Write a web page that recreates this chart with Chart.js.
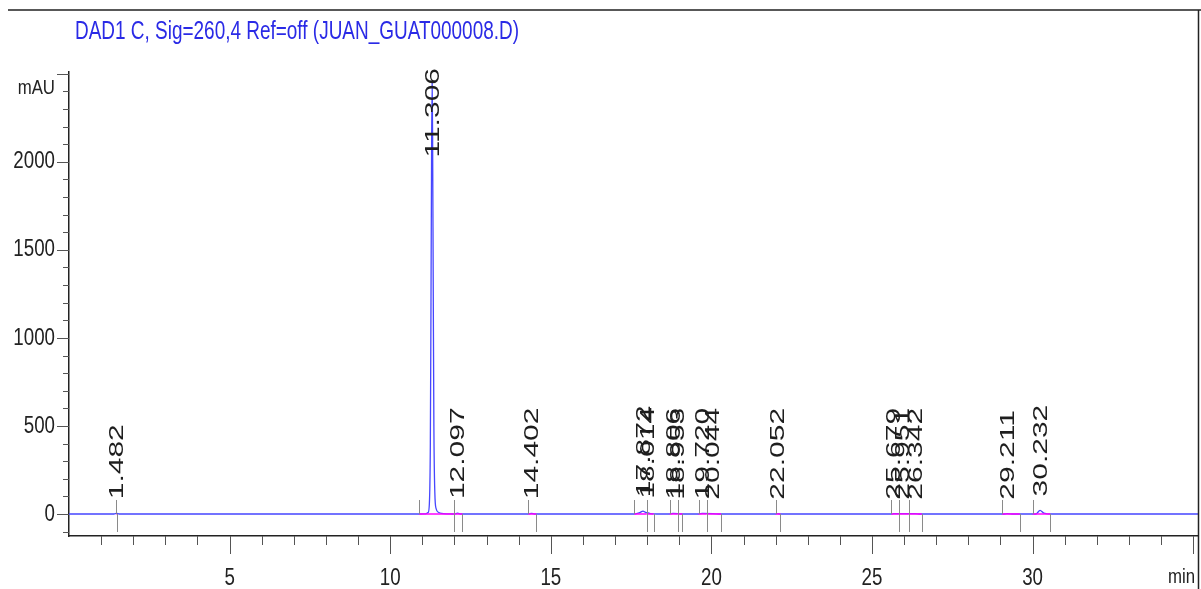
<!DOCTYPE html>
<html>
<head>
<meta charset="utf-8">
<script src="https://cdn.jsdelivr.net/npm/chart.js@4/dist/chart.umd.min.js"></script>
<style>
  body { margin: 0; background: #fff; }
  canvas { display: block; }
</style>
</head>
<body>
<canvas id="myChart" width="1201" height="589"></canvas>
<script>
// Sinal do detector (min, mAU)
const signalTime = [0, 1.40, 1.482, 1.56, 10.9, 11.1, 11.18, 11.22, 11.25, 11.27, 11.29, 11.306, 11.32, 11.34, 11.36, 11.39, 11.43, 11.5, 11.6, 11.8,
  12.0, 12.097, 12.2, 14.3, 14.402, 14.5, 17.6, 17.75, 17.872, 17.95, 18.014, 18.1, 18.3, 18.7, 18.806, 18.953, 19.1,
  19.6, 19.72, 20.044, 20.3, 22.0, 22.052, 22.15, 25.6, 25.679, 25.951, 26.342, 26.5, 29.1, 29.211, 29.4, 30.1, 30.232, 30.35, 30.6, 35.15];
const signalValue = [0, 0, 4, 0, 0, 1, 8, 60, 400, 1200, 2100, 2450, 2150, 1300, 500, 120, 30, 10, 3, 1,
  0, 5, 0, 0, 4, 0, 0, 6, 16, 9, 7, 2, 0, 0, 3, 2, 0,
  0, 3, 2, 0, 0, 2, 0, 0, 2, 2, 2, 0, 0, 2, 0, 0, 20, 5, 0, 0];

// Picos integrados
const peakTimes = [1.482, 11.306, 12.097, 14.402, 17.872, 18.014, 18.806, 18.953, 19.720, 20.044, 22.052, 25.679, 25.951, 26.342, 29.211, 30.232];
const peakHeights = [4, 2450, 5, 4, 16, 7, 3, 2, 3, 2, 2, 2, 2, 2, 2, 20];
const peakStart = [1.47, 10.9, 11.98, 14.3, 17.6, 17.98, 18.7, 18.95, 19.6, 19.85, 22.0, 25.6, 25.85, 26.15, 29.05, 30.0];
const peakEnd = [1.49, 11.98, 12.25, 14.55, 17.98, 18.2, 18.95, 19.1, 19.85, 20.3, 22.15, 25.85, 26.15, 26.55, 29.6, 30.55];

const xTicks = [5, 10, 15, 20, 25, 30];
const yTicks = [0, 500, 1000, 1500, 2000];

const sans = "'Liberation Sans', Arial, sans-serif";

// texto estreito (a fonte original é condensada)
function narrowText(ctx, text, x, y, align, size, sx) {
  ctx.save();
  ctx.translate(x, y);
  ctx.scale(sx, 1);
  ctx.font = size + "px " + sans;
  ctx.textAlign = align;
  ctx.textBaseline = "middle";
  ctx.fillText(text, 0, 0);
  ctx.restore();
}

// Marcas dos picos, linha de base e rótulos
const peakMarks = {
  id: "peakMarks",
  afterDatasetsDraw(chart) {
    const { ctx, chartArea: a, scales: { x, y } } = chart;
    const y0 = y.getPixelForValue(0);
    ctx.save();
    ctx.strokeStyle = "#ff00ff";
    ctx.lineWidth = 1.5;
    peakStart.forEach((s, i) => {
      ctx.beginPath();
      ctx.moveTo(x.getPixelForValue(s), y0);
      ctx.lineTo(x.getPixelForValue(peakEnd[i]), y0);
      ctx.stroke();
    });
    ctx.strokeStyle = "#8a8a8a";
    ctx.lineWidth = 1;
    peakStart.forEach((s, i) => {
      const ps = Math.round(x.getPixelForValue(s)) + 0.5;
      const pe = Math.round(x.getPixelForValue(peakEnd[i])) + 0.5;
      ctx.beginPath();
      ctx.moveTo(ps, y0 - 14);
      ctx.lineTo(ps, y0);
      ctx.moveTo(pe, y0);
      ctx.lineTo(pe, y0 + 18);
      ctx.stroke();
    });
    ctx.fillStyle = "#1e1e1e";
    ctx.font = "20px " + sans;
    ctx.textBaseline = "middle";
    ctx.textAlign = "left";
    peakTimes.forEach((t, i) => {
      const label = t.toFixed(3);
      const px = x.getPixelForValue(t);
      const len = ctx.measureText(label).width * 1.5;
      let bottom = y.getPixelForValue(peakHeights[i]) - 14;
      bottom = Math.max(bottom, a.top - 4 + len);
      ctx.save();
      ctx.translate(px + 1, bottom);
      ctx.rotate(-Math.PI / 2);
      ctx.scale(1.5, 1);
      ctx.fillText(label, 0, 0);
      ctx.restore();
    });
    ctx.restore();
  },
  afterDraw(chart) {
    const { ctx, chartArea: a, scales: { x, y } } = chart;
    ctx.save();
    ctx.strokeStyle = "#555";
    ctx.lineWidth = 1;
    ctx.beginPath();
    for (let v = -100; v <= 2500; v += 100) {
      const py = Math.round(y.getPixelForValue(v)) + 0.5;
      const len = v % 500 === 0 ? 12 : 6;
      ctx.moveTo(a.left - len, py);
      ctx.lineTo(a.left, py);
    }
    for (let t = 1; t <= 35; t++) {
      const px = Math.round(x.getPixelForValue(t)) + 0.5;
      const len = t % 5 === 0 ? 18 : 9;
      ctx.moveTo(px, a.bottom);
      ctx.lineTo(px, a.bottom + len);
    }
    ctx.stroke();
    // moldura
    ctx.strokeStyle = "#222";
    ctx.lineWidth = 1.5;
    ctx.beginPath();
    ctx.moveTo(8, 10);
    ctx.lineTo(1201, 10);
    ctx.moveTo(1198.5, 10);
    ctx.lineTo(1198.5, 589);
    ctx.stroke();
    // rótulos dos eixos
    ctx.fillStyle = "#222";
    y.ticks.forEach((t) => narrowText(ctx, String(t.value), 55, y.getPixelForValue(t.value), "right", 24, 0.78));
    x.ticks.forEach((t) => narrowText(ctx, String(t.value), x.getPixelForValue(t.value), 578, "center", 24, 0.78));
    narrowText(ctx, "mAU", 55, 88, "right", 21, 0.8);
    narrowText(ctx, "min", 1168, 577, "left", 21, 0.8);
    // título
    ctx.fillStyle = "#2a2ae6";
    ctx.font = "25px " + sans;
    const title = "DAD1 C, Sig=260,4 Ref=off (JUAN_GUAT000008.D)";
    narrowText(ctx, title, 75, 32, "left", 25, 444 / ctx.measureText(title).width);
    ctx.restore();
  }
};

const data = {
  datasets: [{
    data: signalTime.map((t, i) => ({ x: t, y: signalValue[i] })),
    borderColor: "#4646ff",
    borderWidth: 1.3,
    pointRadius: 0,
    fill: false,
    cubicInterpolationMode: "monotone",
  }],
};

const config = {
  type: "line",
  data: data,
  options: {
    responsive: false,
    animation: false,
    devicePixelRatio: 1,
    layout: { padding: { top: 72, right: 3, left: 0, bottom: 0 } },
    plugins: { legend: { display: false }, tooltip: { enabled: false } },
    scales: {
      x: {
        type: "linear",
        position: "bottom",
        min: 0,
        max: 35.15,
        afterBuildTicks: (s) => { s.ticks = xTicks.map((v) => ({ value: v })); },
        afterFit: (s) => { s.height = 53; },
        grid: { display: false },
        border: { display: true, color: "#222", width: 1.5 },
        ticks: { display: false },
      },
      y: {
        min: -125,
        max: 2510,
        afterBuildTicks: (s) => { s.ticks = yTicks.map((v) => ({ value: v })); },
        afterFit: (s) => { s.width = 69; },
        grid: { display: false },
        border: { display: true, color: "#222", width: 1.5 },
        ticks: { display: false },
      },
    },
  },
  plugins: [peakMarks],
};

const ctx = document.getElementById("myChart").getContext("2d");
new Chart(ctx, config);
</script>
</body>
</html>
